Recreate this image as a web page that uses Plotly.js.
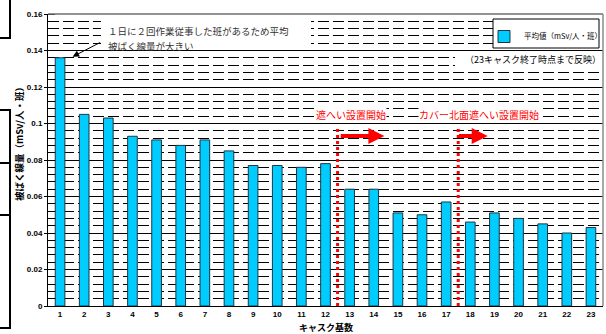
<!DOCTYPE html>
<html>
<head>
<meta charset="utf-8">
<script src="https://cdn.plot.ly/plotly-3.0.1.min.js"></script>
<style>
  html, body { margin: 0; padding: 0; background: #fff; }
  #chart { width: 606px; height: 334px; }
</style>
</head>
<body>
<div id="chart"></div>
<script>
// cask number (x) and mean dose per shift (mSv/person/shift)
let cask_numbers = [1, 2, 3, 4, 5, 6, 7, 8, 9, 10, 11, 12, 13, 14, 15, 16, 17, 18, 19, 20, 21, 22, 23];
let mean_dose = [0.136, 0.105, 0.103, 0.093, 0.091, 0.088, 0.091, 0.085, 0.077, 0.077, 0.076, 0.078,
                 0.064, 0.064, 0.051, 0.050, 0.057, 0.046, 0.051, 0.048, 0.045, 0.040, 0.043];
let series_name = '平均値（mSv/人・班）';
let y_ticks = [0, 0.02, 0.04, 0.06, 0.08, 0.1, 0.12, 0.14, 0.16];

let jp = '"Noto Sans CJK JP", "Noto Sans", sans-serif';
let num = '"Liberation Sans", Arial, sans-serif';

// px -> paper helpers (plot area 48..603 x 14..306)
function px(x) { return (x - 48) / 555; }
function py(y) { return (306 - y) / 292; }

let traces = [
	{
		type: 'bar',
		name: series_name,
		x: cask_numbers,
		y: mean_dose,
		width: 0.4,
		marker: {
			color: 'rgb(0, 204, 255)',
			line: { color: 'rgb(30, 55, 65)', width: 1 }
		}
	}
];

let shapes = [
	// white boxes behind notes
	{ type: 'rect', xref: 'paper', yref: 'paper', x0: px(101), x1: px(311), y0: py(50), y1: py(16),
	  fillcolor: 'white', line: { width: 0 }, layer: 'above' },
	{ type: 'rect', xref: 'paper', yref: 'paper', x0: px(455), x1: px(602), y0: py(68), y1: py(52),
	  fillcolor: 'white', line: { width: 0 }, layer: 'above' },
	// legend frame
	{ type: 'rect', xref: 'paper', yref: 'paper', x0: px(493), x1: px(599), y0: py(48), y1: py(19),
	  fillcolor: 'white', line: { color: 'black', width: 1 }, layer: 'above' },
	// gray plot frame (top / right)
	{ type: 'line', xref: 'paper', yref: 'paper', x0: 0, x1: 1, y0: 1, y1: 1,
	  line: { color: 'rgb(110,110,110)', width: 1.5 } },
	{ type: 'line', xref: 'paper', yref: 'paper', x0: 1, x1: 1, y0: 0, y1: 1,
	  line: { color: 'rgb(140,140,140)', width: 1.5 } },
	// red dotted start markers
	{ type: 'line', xref: 'x', yref: 'y', x0: 12.5, x1: 12.5, y0: 0, y1: 0.098,
	  line: { color: 'red', width: 3, dash: 'dot' }, layer: 'above' },
	{ type: 'line', xref: 'x', yref: 'y', x0: 17.5, x1: 17.5, y0: 0, y1: 0.098,
	  line: { color: 'red', width: 3, dash: 'dot' }, layer: 'above' },
	// frames of neighbouring boxes at the left edge
	{ type: 'path', xref: 'paper', yref: 'paper',
	  path: 'M' + px(-2) + ',' + py(38) + ' L' + px(10) + ',' + py(38) + ' L' + px(10) + ',' + py(-2),
	  line: { color: 'black', width: 2 } },
	{ type: 'path', xref: 'paper', yref: 'paper',
	  path: 'M' + px(-2) + ',' + py(110) + ' L' + px(10) + ',' + py(110) + ' L' + px(10) + ',' + py(328) + ' L' + px(-2) + ',' + py(328),
	  line: { color: 'black', width: 2 } },
	{ type: 'line', xref: 'paper', yref: 'paper', x0: px(-2), x1: px(10), y0: py(163), y1: py(163),
	  line: { color: 'black', width: 2 } },
	{ type: 'line', xref: 'paper', yref: 'paper', x0: px(-2), x1: px(10), y0: py(215), y1: py(215),
	  line: { color: 'black', width: 2 } }
];

let annotations = [
	{
		xref: 'paper', yref: 'paper', x: px(107), y: py(31.5), xanchor: 'left', yanchor: 'middle',
		text: '１日に２回作業従事した班があるため平均', align: 'left', borderpad: 0,
		showarrow: false, font: { family: jp, size: 9.5, color: '#333' }
	},
	{
		xref: 'paper', yref: 'paper', x: px(107), y: py(45.5), xanchor: 'left', yanchor: 'middle',
		text: '被ばく線量が大きい', align: 'left', borderpad: 0,
		showarrow: false, font: { family: jp, size: 9.5, color: '#333' }
	},
	{
		xref: 'x', yref: 'y', x: 1.52, y: 0.1366, ax: 29, ay: -15, text: '',
		showarrow: true, arrowhead: 2, arrowsize: 1.3, arrowwidth: 1, arrowcolor: 'black'
	},
	{
		xref: 'paper', yref: 'paper', x: px(603), y: py(60), xanchor: 'right', yanchor: 'middle',
		text: '（23キャスク終了時点まで反映）', showarrow: false,
		font: { family: jp, size: 9, color: 'black' }
	},
	{
		xref: 'x', yref: 'y', x: 13.07, y: 0.1052, text: '遮へい設置開始', showarrow: false,
		bgcolor: 'white', borderpad: 0, font: { family: jp, size: 10, color: 'red' }
	},
	{
		xref: 'x', yref: 'y', x: 18.38, y: 0.1052, text: 'カバー北面遮へい設置開始', showarrow: false,
		bgcolor: 'white', borderpad: 0, font: { family: jp, size: 10, color: 'red' }
	},
	{
		xref: 'x', yref: 'y', axref: 'x', ayref: 'y', x: 14.44, y: 0.0932, ax: 12.57, ay: 0.0932, text: '',
		showarrow: true, arrowhead: 2, arrowsize: 0.8, arrowwidth: 4, arrowcolor: 'red'
	},
	{
		xref: 'x', yref: 'y', axref: 'x', ayref: 'y', x: 18.72, y: 0.0932, ax: 17.47, ay: 0.0932, text: '',
		showarrow: true, arrowhead: 2, arrowsize: 0.8, arrowwidth: 4, arrowcolor: 'red'
	},
	{
		xref: 'paper', yref: 'paper', x: px(19), y: py(142), xanchor: 'center', yanchor: 'middle', textangle: -90,
		text: '被ばく線量（mSv/人・班）', showarrow: false,
		font: { family: jp, size: 9.5, color: 'black', weight: 'bold' }
	},
	{
		xref: 'paper', yref: 'paper', x: 0.5, y: py(327), yanchor: 'middle',
		text: 'キャスク基数', showarrow: false,
		font: { family: jp, size: 9, color: 'black', weight: 'bold' }
	}
];

let layout = {
	width: 606,
	height: 334,
	margin: { l: 48, r: 3, t: 14, b: 28, pad: 0, autoexpand: false },
	paper_bgcolor: 'white',
	plot_bgcolor: 'white',
	showlegend: true,
	legend: {
		x: px(484), y: py(22), xanchor: 'left', yanchor: 'top',
		bgcolor: 'rgba(0,0,0,0)', borderwidth: 0,
		font: { family: jp, size: 7.5, color: 'black' }
	},
	xaxis: {
		range: [0.5, 23.5],
		tickvals: cask_numbers,
		showgrid: false,
		zeroline: false,
		showline: true, linecolor: 'black', linewidth: 1,
		ticks: '',
		tickfont: { family: num, size: 8, color: 'black', weight: 'bold' }
	},
	yaxis: {
		range: [0, 0.16],
		tickvals: y_ticks,
		ticktext: y_ticks.map(String),
		showgrid: true, gridcolor: 'black', gridwidth: 1,
		zeroline: false,
		showline: true, linecolor: 'black', linewidth: 1,
		ticks: 'outside', ticklen: 3, tickcolor: 'black',
		tickfont: { family: num, size: 8, color: 'black', weight: 'bold' },
		minor: {
			dtick: 0.004, showgrid: true, gridcolor: 'black', gridwidth: 1, griddash: '11px,4px',
			ticks: 'inside', ticklen: 7, tickcolor: 'black'
		}
	},
	shapes: shapes,
	annotations: annotations
};

Plotly.newPlot(document.getElementById('chart'), traces, layout, { displayModeBar: false, staticPlot: true });
</script>
</body>
</html>
